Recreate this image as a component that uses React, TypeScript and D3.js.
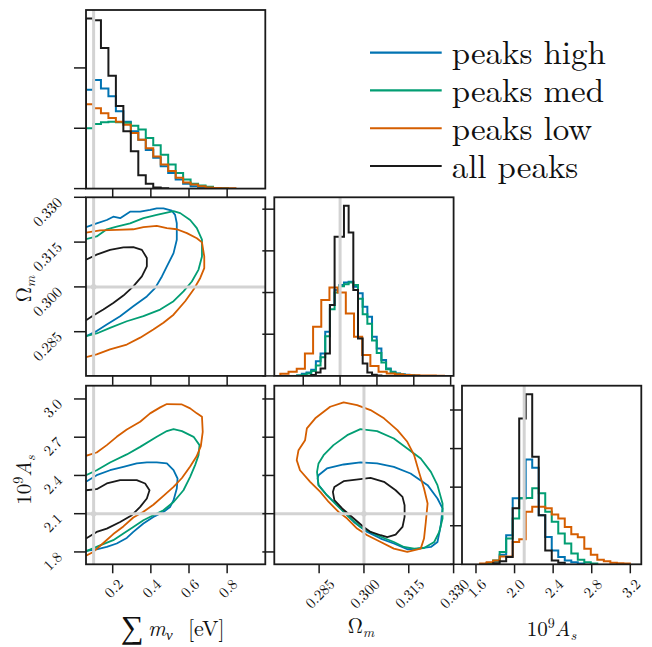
import React from "react";
import * as d3 from "d3";

// ---------------- data ----------------
const SERIES = ["peaks high", "peaks med", "peaks low", "all peaks"];
const SERIES_COLORS = ["#0173b2", "#029e73", "#d55e00", "#1a1a1a"];

const TRUTH_MNU = 0.1;
const TRUTH_OM = 0.3;
const TRUTH_AS = 2.1;

const MNU_DOMAIN = [0.06, 1.0];
const OM_DOMAIN = [0.2702, 0.33];
const OM_2D_X_DOMAIN = [0.27, 0.33];
const AS_DOMAIN = [1.703, 3.104];
const OM_HIST_DOMAIN = [0.2643, 0.3616];
const AS_HIST_DOMAIN = [1.455, 3.314];
const MNU_DENS_DOMAIN = [0, 2.96];
const OM_DENS_DOMAIN = [0, 42.85];
const AS_DENS_DOMAIN = [0, 4.63];

const MNU_TICKS = [0.2, 0.4, 0.6, 0.8];
const OM_TICKS = [0.285, 0.3, 0.315, 0.33];
const AS_TICKS = [1.8, 2.1, 2.4, 2.7, 3.0];
const AS_HIST_TICKS = [1.6, 2.0, 2.4, 2.8, 3.2];
const OM_HIST_TICKS = [0.28, 0.3, 0.32, 0.34, 0.36];
const MNU_DENS_TICKS = [0, 1, 2];
const OM_DENS_TICKS = [0, 10, 20, 30, 40];
const AS_DENS_TICKS = [0, 1, 2, 3, 4];

// 1D histograms: bin start, bin width, bin heights
const MNU_BIN_START = 0.06;
const MNU_BIN_WIDTH = 0.03917;
const MNU_HIST_HIGH = [1.64, 1.8, 1.66, 1.53, 1.28, 1.11, 0.95, 0.81, 0.64, 0.51, 0.37, 0.26, 0.15, 0.08, 0.04, 0.02, 0.01, 0.005];
const MNU_HIST_MED = [1.0, 1.07, 1.1, 1.11, 1.1, 1.09, 1.04, 0.98, 0.84, 0.72, 0.56, 0.4, 0.26, 0.15, 0.08, 0.05, 0.03, 0.01, 0.005];
const MNU_HIST_LOW = [1.4, 1.33, 1.25, 1.17, 1.11, 1.06, 0.92, 0.81, 0.67, 0.53, 0.4, 0.29, 0.18, 0.1, 0.066, 0.04, 0.02, 0.01, 0.005, 0.005];
const MNU_HIST_ALL = [2.82, 2.79, 2.33, 1.87, 1.37, 0.95, 0.62, 0.22, 0.08, 0.02, 0.005];

const OM_BIN_WIDTH = 0.00254;
const OM_BIN_START_HIGH = 0.2767;
const OM_HIST_HIGH = [0.1, 0.5, 0.8, 1.5, 3.5, 5.4, 10.6, 17.0, 20.6, 21.8, 22.4, 22.6, 21.4, 19.8, 16.6, 14.2, 9.4, 6.6, 3.8, 1.8, 1.0, 0.6, 0.4, 0.3, 0.2, 0.1];
const OM_BIN_START_MED = 0.2767;
const OM_HIST_MED = [0.1, 0.3, 0.6, 1.2, 2.5, 4.5, 9.5, 16.0, 20.0, 21.5, 22.0, 22.4, 21.8, 18.5, 14.8, 12.5, 8.5, 5.5, 3.2, 1.6, 0.9, 0.5, 0.3, 0.2, 0.1];
const OM_BIN_START_LOW = 0.26759;
const OM_BIN_WIDTH_LOW = 0.00444;
const OM_HIST_LOW = [0.5, 1.0, 1.7, 5.4, 11.8, 18.2, 21.2, 20.0, 15.0, 9.4, 5.0, 2.4, 1.0, 0.6, 0.4, 0.2, 0.15, 0.1, 0.1, 0.05];
const OM_BIN_START_ALL = 0.28432;
const OM_HIST_ALL = [0.24, 0.8, 1.8, 5.4, 17.0, 33.4, 33.4, 40.8, 34.4, 20.6, 9.0, 3.0, 0.8, 0.3, 0.1];

const AS_BIN_WIDTH = 0.0675;
const AS_BIN_START = 1.643;
const AS_HIST_HIGH = [0.01, 0.03, 0.08, 0.25, 0.75, 1.71, 1.71, 2.72, 2.5, 1.27, 0.71, 0.36, 0.19, 0.1, 0.05, 0.02];
const AS_HIST_MED = [0.01, 0.03, 0.1, 0.32, 0.67, 1.19, 1.71, 1.72, 1.97, 1.84, 1.36, 1.1, 0.8, 0.54, 0.28, 0.12, 0.05, 0.02];
const AS_HIST_LOW = [0.02, 0.05, 0.1, 0.2, 0.2, 0.58, 0.65, 1.36, 1.49, 1.49, 1.45, 1.29, 1.19, 0.97, 0.78, 0.7, 0.4, 0.25, 0.12, 0.08, 0.04, 0.03, 0.02];
const AS_BIN_START_ALL = 1.778;
const AS_HIST_ALL = [0.03, 0.08, 0.19, 1.45, 3.78, 4.41, 2.79, 1.27, 0.36, 0.1, 0.04];

// 2D contours (68% levels), [x, y] in data units
const C_MNU_OM_HIGH = [[0.06, 0.32], [0.116, 0.3213], [0.169, 0.3224], [0.203, 0.3235], [0.239, 0.323], [0.291, 0.3252], [0.344, 0.3252], [0.396, 0.3258], [0.431, 0.3263], [0.466, 0.3263], [0.51, 0.3255], [0.527, 0.3241], [0.536, 0.3213], [0.536, 0.3158], [0.519, 0.3113], [0.484, 0.3069], [0.458, 0.3035], [0.422, 0.2996], [0.379, 0.2968], [0.308, 0.2935], [0.239, 0.2902], [0.169, 0.2874], [0.116, 0.2852], [0.06, 0.2835]];
const C_MNU_OM_MED = [[0.06, 0.316], [0.116, 0.3169], [0.169, 0.3193], [0.221, 0.3202], [0.291, 0.3213], [0.361, 0.323], [0.431, 0.3241], [0.484, 0.3249], [0.519, 0.3254], [0.554, 0.3247], [0.606, 0.3224], [0.641, 0.3197], [0.668, 0.3158], [0.668, 0.3102], [0.65, 0.3058], [0.615, 0.3018], [0.571, 0.2985], [0.519, 0.2952], [0.449, 0.2924], [0.361, 0.2902], [0.274, 0.2885], [0.186, 0.2863], [0.116, 0.2844], [0.06, 0.2835]];
const C_MNU_OM_LOW = [[0.06, 0.3182], [0.134, 0.3189], [0.221, 0.3191], [0.308, 0.3193], [0.361, 0.32], [0.431, 0.3204], [0.484, 0.3197], [0.536, 0.3193], [0.589, 0.318], [0.641, 0.3163], [0.668, 0.3149], [0.68, 0.3102], [0.68, 0.3063], [0.659, 0.303], [0.624, 0.2991], [0.58, 0.2952], [0.519, 0.2907], [0.466, 0.288], [0.413, 0.2857], [0.344, 0.283], [0.274, 0.2807], [0.186, 0.2791], [0.116, 0.2774], [0.06, 0.2765]];
const C_MNU_OM_ALL = [[0.06, 0.3091], [0.116, 0.3108], [0.186, 0.3124], [0.256, 0.3132], [0.308, 0.3133], [0.353, 0.3124], [0.379, 0.3097], [0.379, 0.3069], [0.353, 0.3035], [0.308, 0.3002], [0.256, 0.2971], [0.203, 0.2946], [0.151, 0.2924], [0.098, 0.2904], [0.06, 0.2888]];

const C_MNU_AS_HIGH = [[0.06, 2.35], [0.116, 2.402], [0.186, 2.441], [0.256, 2.467], [0.326, 2.494], [0.379, 2.502], [0.431, 2.502], [0.484, 2.494], [0.519, 2.441], [0.54, 2.376], [0.536, 2.298], [0.519, 2.206], [0.501, 2.153], [0.466, 2.114], [0.413, 2.075], [0.361, 2.023], [0.308, 1.957], [0.274, 1.91], [0.221, 1.866], [0.169, 1.839], [0.116, 1.821], [0.06, 1.808]];
const C_MNU_AS_MED = [[0.06, 2.402], [0.116, 2.441], [0.186, 2.502], [0.274, 2.565], [0.344, 2.624], [0.431, 2.703], [0.484, 2.748], [0.519, 2.763], [0.563, 2.748], [0.624, 2.703], [0.655, 2.638], [0.65, 2.559], [0.632, 2.481], [0.606, 2.389], [0.571, 2.284], [0.519, 2.192], [0.466, 2.127], [0.413, 2.088], [0.361, 2.049], [0.308, 1.996], [0.256, 1.944], [0.203, 1.892], [0.134, 1.852], [0.06, 1.805]];
const C_MNU_AS_LOW = [[0.06, 2.554], [0.116, 2.58], [0.169, 2.638], [0.221, 2.703], [0.274, 2.761], [0.344, 2.821], [0.396, 2.887], [0.449, 2.934], [0.484, 2.96], [0.563, 2.957], [0.606, 2.926], [0.641, 2.887], [0.668, 2.86], [0.672, 2.742], [0.662, 2.63], [0.64, 2.55], [0.606, 2.47], [0.563, 2.38], [0.519, 2.31], [0.466, 2.24], [0.413, 2.17], [0.361, 2.115], [0.308, 2.07], [0.256, 2.0], [0.203, 1.94], [0.151, 1.87], [0.098, 1.8], [0.06, 1.77]];
const C_MNU_AS_ALL = [[0.06, 2.284], [0.116, 2.292], [0.169, 2.337], [0.239, 2.363], [0.326, 2.363], [0.37, 2.337], [0.393, 2.284], [0.379, 2.219], [0.344, 2.153], [0.3, 2.088], [0.239, 2.035], [0.169, 1.983], [0.116, 1.957], [0.06, 1.905]];

const C_OM_AS_HIGH = [[0.2848, 2.402], [0.2876, 2.455], [0.2932, 2.486], [0.2988, 2.502], [0.3044, 2.494], [0.31, 2.467], [0.3156, 2.415], [0.3213, 2.324], [0.3246, 2.219], [0.3263, 2.141], [0.3257, 2.009], [0.3246, 1.878], [0.3224, 1.839], [0.3179, 1.826], [0.3145, 1.821], [0.31, 1.866], [0.3056, 1.905], [0.3011, 1.957], [0.2966, 2.035], [0.2921, 2.141], [0.2876, 2.245], [0.2848, 2.324], [0.2845, 2.376]];
const C_OM_AS_MED = [[0.2843, 2.428], [0.2848, 2.494], [0.2865, 2.559], [0.2898, 2.638], [0.2944, 2.716], [0.2988, 2.763], [0.3044, 2.748], [0.31, 2.69], [0.3145, 2.612], [0.319, 2.533], [0.3224, 2.428], [0.3246, 2.324], [0.3263, 2.18], [0.3263, 2.062], [0.3252, 1.957], [0.3235, 1.878], [0.3201, 1.831], [0.3168, 1.826], [0.3134, 1.839], [0.31, 1.878], [0.3044, 1.931], [0.2988, 1.996], [0.2944, 2.088], [0.291, 2.166], [0.2876, 2.245], [0.2848, 2.324]];
const C_OM_AS_LOW = [[0.2775, 2.52], [0.2781, 2.598], [0.2803, 2.677], [0.2809, 2.769], [0.2837, 2.848], [0.2887, 2.939], [0.2932, 2.973], [0.2977, 2.952], [0.3022, 2.913], [0.3067, 2.848], [0.3112, 2.756], [0.3145, 2.664], [0.3168, 2.559], [0.3184, 2.428], [0.3201, 2.298], [0.3213, 2.18], [0.3207, 2.035], [0.3201, 1.905], [0.319, 1.826], [0.3145, 1.8], [0.31, 1.826], [0.3056, 1.878], [0.3011, 1.931], [0.2977, 1.983], [0.2944, 2.062], [0.2915, 2.114], [0.2882, 2.192], [0.2854, 2.271], [0.282, 2.35], [0.2786, 2.441]];
const C_OM_AS_ALL = [[0.2901, 2.31], [0.2932, 2.355], [0.2988, 2.371], [0.3022, 2.381], [0.3067, 2.35], [0.3106, 2.284], [0.3129, 2.232], [0.3136, 2.166], [0.3136, 2.075], [0.3129, 1.996], [0.3106, 1.936], [0.3078, 1.917], [0.3056, 1.931], [0.3022, 1.957], [0.2999, 1.996], [0.2966, 2.062], [0.2927, 2.141], [0.2901, 2.206], [0.2896, 2.271]];

// ---------------- layout ----------------
const W = 179.3;
const H = 178.6;
const COL_X = [86, 274.3, 462];
const ROW_Y = [10, 197.3, 385.7];
const FONT =
  "'Latin Modern Roman', 'CMU Serif', 'Computer Modern', 'Liberation Serif', 'Noto Serif', 'DejaVu Serif', 'Times New Roman', 'FreeSerif', 'Nimbus Roman', serif";
const FRAME = "#1a1a1a";
const TRUTH_COLOR = "#d3d3d3";

type Pt = [number, number];

function stepPoints(start: number, width: number, vals: number[]): Pt[] {
  const pts: Pt[] = [[start, 0]];
  vals.forEach((v, i) => {
    pts.push([start + i * width, v]);
    pts.push([start + (i + 1) * width, v]);
  });
  pts.push([start + vals.length * width, 0]);
  return pts;
}

function labelWidth(s: string) {
  let w = 0;
  for (const c of s) w += c === "." ? 3.75 : 7.5;
  return w;
}

const txt = (size: number, extra: Record<string, any> = {}) => ({
  style: { fontFamily: FONT, fontSize: size + "px", fill: "#111", ...extra },
});

type PanelProps = {
  id: string;
  col: number;
  row: number;
  xDomain: number[];
  yDomain: number[];
  xTicks: number[];
  yTicks: number[];
  xFmt?: (v: number) => string;
  yFmt?: (v: number) => string;
  hists?: { start: number; width: number; vals: number[]; color: string }[];
  contours?: { pts: number[][]; color: string; closed: boolean }[];
  truthX?: number;
  truthY?: number;
};

function Panel(p: PanelProps) {
  const x0 = COL_X[p.col];
  const y0 = ROW_Y[p.row];
  const xs = d3.scaleLinear().domain(p.xDomain).range([x0, x0 + W]);
  const ys = d3.scaleLinear().domain(p.yDomain).range([y0 + H, y0]);
  const line = d3
    .line<number[]>()
    .x((d) => xs(d[0]))
    .y((d) => ys(d[1]));
  const clipId = `clip-${p.id}`;
  return (
    <g>
      <defs>
        <clipPath id={clipId}>
          <rect x={x0} y={y0} width={W} height={H} />
        </clipPath>
      </defs>
      <rect x={x0} y={y0} width={W} height={H} fill="#fff" />
      <g clipPath={`url(#${clipId})`}>
        {(p.hists || []).map((h, i) => (
          <path
            key={"h" + i}
            d={line(stepPoints(h.start, h.width, h.vals)) || ""}
            fill="none"
            stroke={h.color}
            strokeWidth={2}
            strokeLinejoin="miter"
          />
        ))}
        {(p.contours || []).map((c, i) => (
          <path
            key={"c" + i}
            d={(line(c.closed ? [...c.pts, c.pts[0]] : c.pts) || "") + (c.closed ? "Z" : "")}
            fill="none"
            stroke={c.color}
            strokeWidth={1.8}
            strokeLinejoin="round"
          />
        ))}
        {p.truthX !== undefined && (
          <line x1={xs(p.truthX)} x2={xs(p.truthX)} y1={y0} y2={y0 + H} stroke={TRUTH_COLOR} strokeWidth={3} />
        )}
        {p.truthY !== undefined && (
          <line x1={x0} x2={x0 + W} y1={ys(p.truthY)} y2={ys(p.truthY)} stroke={TRUTH_COLOR} strokeWidth={3} />
        )}
        {p.truthX !== undefined && p.truthY !== undefined && (
          <circle cx={xs(p.truthX)} cy={ys(p.truthY)} r={2.8} fill={TRUTH_COLOR} />
        )}
      </g>
      <rect x={x0} y={y0} width={W} height={H} fill="none" stroke={FRAME} strokeWidth={1.8} />
      {p.xTicks.map((t) => (
        <line key={"xt" + t} x1={xs(t)} x2={xs(t)} y1={y0 + H} y2={y0 + H + 9} stroke={FRAME} strokeWidth={1.5} />
      ))}
      {p.yTicks.map((t) => (
        <line key={"yt" + t} x1={x0 - 12} x2={x0} y1={ys(t)} y2={ys(t)} stroke={FRAME} strokeWidth={1.5} />
      ))}
      {p.xFmt &&
        p.xTicks.map((t) => {
          const s = p.xFmt!(t);
          const w = labelWidth(s);
          return (
            <text
              key={"xl" + t}
              transform={`translate(${xs(t) + 0.354 * w},${y0 + H + 16.2}) rotate(-45)`}
              textAnchor="end"
              dominantBaseline="central"
              {...txt(15)}
            >
              {s}
            </text>
          );
        })}
      {p.yFmt &&
        p.yTicks.map((t) => (
          <text
            key={"yl" + t}
            transform={`translate(${x0 - 27.5},${ys(t) + 1.5}) rotate(-45)`}
            textAnchor="end"
            dominantBaseline="central"
            {...txt(15)}
          >
            {p.yFmt!(t)}
          </text>
        ))}
    </g>
  );
}

function AsLabel() {
  return (
    <>
      10<tspan style={{ fontSize: "14px" }} dy={-8}>9</tspan>
      <tspan dy={8} style={{ fontStyle: "italic" }}>A</tspan>
      <tspan style={{ fontStyle: "italic", fontSize: "14px" }} dy={4}>s</tspan>
    </>
  );
}

function OmLabel() {
  return (
    <>
      Ω<tspan style={{ fontStyle: "italic", fontSize: "14px" }} dy={4}>m</tspan>
    </>
  );
}

export default function App() {
  const [cH, cM, cL, cA] = SERIES_COLORS;
  const f1 = (v: number) => v.toFixed(1);
  const f3 = (v: number) => v.toFixed(3);
  const legendY = d3.scaleLinear().domain([0, 3]).range([52.7, 166]);
  return (
    <svg width={652} height={647} viewBox="0 0 652 647" style={{ display: "block", position: "absolute", left: 0, top: 0 }}>
      <rect width={652} height={647} fill="#fff" />
      <Panel
        id="mnu"
        col={0}
        row={0}
        xDomain={MNU_DOMAIN}
        yDomain={MNU_DENS_DOMAIN}
        xTicks={MNU_TICKS}
        yTicks={MNU_DENS_TICKS}
        hists={[
          { start: MNU_BIN_START, width: MNU_BIN_WIDTH, vals: MNU_HIST_HIGH, color: cH },
          { start: MNU_BIN_START, width: MNU_BIN_WIDTH, vals: MNU_HIST_MED, color: cM },
          { start: MNU_BIN_START, width: MNU_BIN_WIDTH, vals: MNU_HIST_LOW, color: cL },
          { start: MNU_BIN_START, width: MNU_BIN_WIDTH, vals: MNU_HIST_ALL, color: cA },
        ]}
        truthX={TRUTH_MNU}
      />
      <Panel
        id="mnuom"
        col={0}
        row={1}
        xDomain={MNU_DOMAIN}
        yDomain={OM_DOMAIN}
        xTicks={MNU_TICKS}
        yTicks={OM_TICKS}
        yFmt={f3}
        contours={[
          { pts: C_MNU_OM_HIGH, color: cH, closed: false },
          { pts: C_MNU_OM_MED, color: cM, closed: false },
          { pts: C_MNU_OM_LOW, color: cL, closed: false },
          { pts: C_MNU_OM_ALL, color: cA, closed: false },
        ]}
        truthX={TRUTH_MNU}
        truthY={TRUTH_OM}
      />
      <Panel
        id="om"
        col={1}
        row={1}
        xDomain={OM_HIST_DOMAIN}
        yDomain={OM_DENS_DOMAIN}
        xTicks={OM_HIST_TICKS}
        yTicks={OM_DENS_TICKS}
        hists={[
          { start: OM_BIN_START_HIGH, width: OM_BIN_WIDTH, vals: OM_HIST_HIGH, color: cH },
          { start: OM_BIN_START_MED, width: OM_BIN_WIDTH, vals: OM_HIST_MED, color: cM },
          { start: OM_BIN_START_LOW, width: OM_BIN_WIDTH_LOW, vals: OM_HIST_LOW, color: cL },
          { start: OM_BIN_START_ALL, width: OM_BIN_WIDTH, vals: OM_HIST_ALL, color: cA },
        ]}
        truthX={TRUTH_OM}
      />
      <Panel
        id="mnuas"
        col={0}
        row={2}
        xDomain={MNU_DOMAIN}
        yDomain={AS_DOMAIN}
        xTicks={MNU_TICKS}
        yTicks={AS_TICKS}
        xFmt={f1}
        yFmt={f1}
        contours={[
          { pts: C_MNU_AS_HIGH, color: cH, closed: false },
          { pts: C_MNU_AS_MED, color: cM, closed: false },
          { pts: C_MNU_AS_LOW, color: cL, closed: false },
          { pts: C_MNU_AS_ALL, color: cA, closed: false },
        ]}
        truthX={TRUTH_MNU}
        truthY={TRUTH_AS}
      />
      <Panel
        id="omas"
        col={1}
        row={2}
        xDomain={OM_2D_X_DOMAIN}
        yDomain={AS_DOMAIN}
        xTicks={OM_TICKS}
        yTicks={AS_TICKS}
        xFmt={f3}
        contours={[
          { pts: C_OM_AS_HIGH, color: cH, closed: true },
          { pts: C_OM_AS_MED, color: cM, closed: true },
          { pts: C_OM_AS_LOW, color: cL, closed: true },
          { pts: C_OM_AS_ALL, color: cA, closed: true },
        ]}
        truthX={TRUTH_OM}
        truthY={TRUTH_AS}
      />
      <Panel
        id="as"
        col={2}
        row={2}
        xDomain={AS_HIST_DOMAIN}
        yDomain={AS_DENS_DOMAIN}
        xTicks={AS_HIST_TICKS}
        yTicks={AS_DENS_TICKS}
        xFmt={f1}
        hists={[
          { start: AS_BIN_START, width: AS_BIN_WIDTH, vals: AS_HIST_HIGH, color: cH },
          { start: AS_BIN_START, width: AS_BIN_WIDTH, vals: AS_HIST_MED, color: cM },
          { start: AS_BIN_START, width: AS_BIN_WIDTH, vals: AS_HIST_LOW, color: cL },
          { start: AS_BIN_START_ALL, width: AS_BIN_WIDTH, vals: AS_HIST_ALL, color: cA },
        ]}
        truthX={TRUTH_AS}
      />

      {/* axis labels */}
      <text x={121} y={638} {...txt(32)}>∑</text>
      <text x={148} y={636} {...txt(22)}>
        <tspan style={{ fontStyle: "italic" }}>m</tspan>
        <tspan style={{ fontStyle: "italic", fontSize: "15px" }} dy={4}>ν</tspan>
      </text>
      <text x={188} y={636} {...txt(22)}>[eV]</text>
      <text x={361} y={633} textAnchor="middle" {...txt(21)}>
        <OmLabel />
      </text>
      <text x={551.5} y={636} textAnchor="middle" {...txt(21)}>
        <AsLabel />
      </text>
      <text transform="translate(31,289) rotate(-90)" textAnchor="middle" {...txt(21)}>
        <OmLabel />
      </text>
      <text transform="translate(31,480) rotate(-90)" textAnchor="middle" {...txt(21)}>
        <AsLabel />
      </text>

      {/* legend */}
      {SERIES.map((s, i) => (
        <g key={s}>
          <line x1={370} x2={441.7} y1={legendY(i)} y2={legendY(i)} stroke={SERIES_COLORS[i]} strokeWidth={2.2} />
          <text x={451.7} y={legendY(i) + 11.5} {...txt(33)}>
            {s}
          </text>
        </g>
      ))}
    </svg>
  );
}
